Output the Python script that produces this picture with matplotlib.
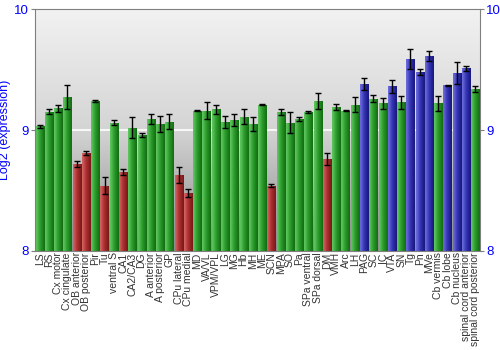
import matplotlib
matplotlib.use("Agg")
import matplotlib.pyplot as plt
import numpy as np
from matplotlib.colors import LinearSegmentedColormap

plt.rcParams["font.family"] = ["Liberation Sans", "DejaVu Sans"]

regions = ["LS", "RS", "Cx motor", "Cx cingulate", "OB anterior", "OB posterior",
           "Pir", "Tu", "ventral S", "CA1", "CA2/CA3", "DG", "A anterior",
           "A posterior", "GP", "CPu lateral", "CPu medial", "MD", "VA/VL",
           "VPM/VPL", "LG", "MG", "Hb", "MH", "ME", "SCN", "MPA", "SO", "Pa",
           "SPa ventral", "SPa dorsal", "DM", "VMH", "Arc", "LH", "PAG", "SC",
           "IC", "VTA", "SN", "Tg", "Pn", "MVe", "Cb vermis", "Cb lobe",
           "Cb nucleus", "spinal cord anterior", "spinal cord posterior"]
expression = [9.03, 9.15, 9.18, 9.27, 8.72, 8.81, 9.24, 8.54, 9.06, 8.65,
              9.02, 8.96, 9.09, 9.05, 9.07, 8.63, 8.48, 9.16, 9.16, 9.17,
              9.07, 9.08, 9.11, 9.05, 9.21, 8.54, 9.15, 9.06, 9.09, 9.15,
              9.24, 8.76, 9.19, 9.16, 9.21, 9.38, 9.26, 9.22, 9.36, 9.23,
              9.59, 9.48, 9.61, 9.22, 9.37, 9.47, 9.51, 9.34]
errors = [0.01, 0.02, 0.03, 0.10, 0.025, 0.017, 0.005, 0.07, 0.02, 0.026,
          0.09, 0.014, 0.04, 0.07, 0.06, 0.064, 0.03, 0.003, 0.07, 0.04,
          0.05, 0.05, 0.064, 0.057, 0.003, 0.014, 0.025, 0.085, 0.017, 0.011,
          0.068, 0.052, 0.026, 0.003, 0.065, 0.048, 0.032, 0.047, 0.05, 0.054,
          0.083, 0.022, 0.041, 0.06, 0.005, 0.09, 0.02, 0.025]
low_regions = ["OB anterior", "OB posterior", "Tu", "CA1", "CPu lateral",
               "CPu medial", "SCN", "DM"]
high_regions = ["PAG", "VTA", "Tg", "Pn", "MVe", "Cb lobe", "Cb nucleus",
                "spinal cord anterior"]

shades = {
    "mid": ["#5cc25c", "#3aa83a", "#239023", "#157015"],
    "low": ["#d06060", "#b83c3c", "#a02828", "#7a1a1a"],
    "high": ["#6868d8", "#4444c0", "#2c2ca8", "#1a1a80"],
}
groups = ["low" if r in low_regions else "high" if r in high_regions else "mid"
          for r in regions]

fig = plt.figure(figsize=(5, 3.5), dpi=100)
ax = fig.add_axes([0.07, 0.283, 0.89, 0.691])

x = np.arange(len(regions))
ax.set_xlim(-0.5, len(regions) - 0.5)
ax.set_ylim(8, 10)

# grey background, light at the top and darker towards the bottom
bg = LinearSegmentedColormap.from_list("bg", ["#f2f2f2", "#d4d4d4", "#8a8a8a"])
ax.imshow(np.linspace(0, 1, 256).reshape(-1, 1), cmap=bg, aspect="auto",
          extent=(-0.5, len(regions) - 0.5, 8, 10), zorder=0)
ax.axhline(9, color="white", lw=1.2, zorder=1)

bars = ax.bar(x, np.array(expression) - 8, width=0.88, bottom=8,
              color="none", edgecolor="none", zorder=2)
grad = np.array([0, 0.15, 0.35, 0.55, 0.7, 0.85, 1.0]).reshape(1, -1)
for bar, g in zip(bars, groups):
    cmap = LinearSegmentedColormap.from_list(g, shades[g])
    x0, y0 = bar.get_x(), bar.get_y()
    im = ax.imshow(grad, cmap=cmap, aspect="auto", interpolation="bilinear",
                   extent=(x0, x0 + bar.get_width(), y0, y0 + bar.get_height()),
                   zorder=2)
    im.set_clip_path(bar)

ax.errorbar(x, expression, yerr=errors, fmt="none", ecolor="black",
            elinewidth=1, capsize=2, capthick=1, zorder=3)

ax.set_yticks([8, 9, 10])
ax.tick_params(axis="y", colors="#7f7f7f", labelcolor="blue", labelsize=9.5,
               length=3, right=True, labelright=True, pad=1.5)
ax.set_xticks(x)
ax.set_xticklabels(regions, rotation=90, fontsize=7.5, color="#333333")
ax.tick_params(axis="x", length=0, pad=1)
ax.set_ylabel("Log2 (expression)", color="blue", fontsize=9, labelpad=2)
for s in ax.spines.values():
    s.set_color("#7f7f7f")

fig.savefig("out.png", dpi=100)
